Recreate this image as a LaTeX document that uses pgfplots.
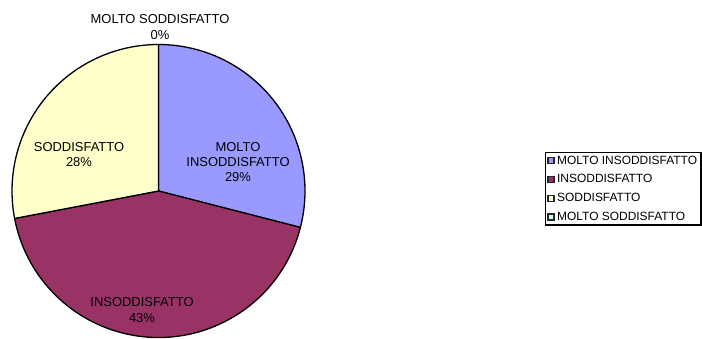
\documentclass[border=0pt]{standalone}
\usepackage{fontspec}
\setmainfont{Liberation Sans}
\usepackage{pgfplots}
\usepackage{pgfplotstable}
\pgfplotsset{compat=1.18}

\definecolor{periwinkle}{RGB}{153,153,255}
\definecolor{plum}{RGB}{153,51,102}
\definecolor{ivory}{RGB}{255,255,204}
\definecolor{paleturq}{RGB}{204,255,255}

% share of each answer, clockwise from 12 o'clock
\pgfplotstableread{
name value col
MI 29 periwinkle
I 43 plum
S 28 ivory
MS 0 paleturq
}\piedata

\begin{document}
\begin{tikzpicture}
\begin{axis}[
  x=1bp, y=1bp,
  xmin=0, xmax=702, ymin=0, ymax=338,
  hide axis, clip=false,
  font=\fontsize{13}{15.5}\selectfont,
  legend cell align={left},
  legend style={
    at={(axis cs:545,186)}, anchor=north west,
    draw=black, line width=1.3bp, inner xsep=1.5bp, inner ysep=2.5bp,
    font=\fontsize{12}{13}\selectfont,
    row sep=8bp,
    nodes={inner xsep=2.5bp, inner ysep=0.5bp},
  },
  legend image code/.code={
    \draw[#1, draw=black!85, line width=1.5bp] (2bp,-3bp) rectangle (8bp,3bp);
  },
]
\coordinate (bl) at (axis cs:0,0);
\coordinate (tr) at (axis cs:702,338);

\def\startang{90}
\pgfplotstablegetrowsof{\piedata}
\pgfmathtruncatemacro\lastrow{\pgfplotsretval-1}
\pgfplotsforeachungrouped \i in {0,...,\lastrow}{
  \pgfplotstablegetelem{\i}{value}\of\piedata
  \let\val=\pgfplotsretval
  \pgfplotstablegetelem{\i}{col}\of\piedata
  \let\col=\pgfplotsretval
  \pgfmathsetmacro\endang{\startang-3.6*\val}
  \edef\cmd{\noexpand\filldraw[fill=\col, draw=black, line width=1.3bp, line join=round]
    (axis cs:158.5,147) -- ++(\startang:146.5bp)
    arc[start angle=\startang, end angle=\endang, radius=146.5bp] -- cycle;}
  \cmd
  \global\let\startang=\endang
}

\node[align=center] at (axis cs:160,311) {MOLTO SODDISFATTO\\0\%};
\node[align=center] at (axis cs:238,176) {MOLTO\\INSODDISFATTO\\29\%};
\node[align=center] at (axis cs:79,183.5) {SODDISFATTO\\28\%};
\node[align=center] at (axis cs:142,28) {INSODDISFATTO\\43\%};

\addlegendimage{fill=periwinkle}
\addlegendentry{MOLTO INSODDISFATTO}
\addlegendimage{fill=plum}
\addlegendentry{INSODDISFATTO}
\addlegendimage{fill=ivory}
\addlegendentry{SODDISFATTO}
\addlegendimage{fill=paleturq}
\addlegendentry{MOLTO SODDISFATTO}
\end{axis}
\pgfresetboundingbox
\path[use as bounding box] (bl) rectangle (tr);
\end{tikzpicture}
\end{document}
